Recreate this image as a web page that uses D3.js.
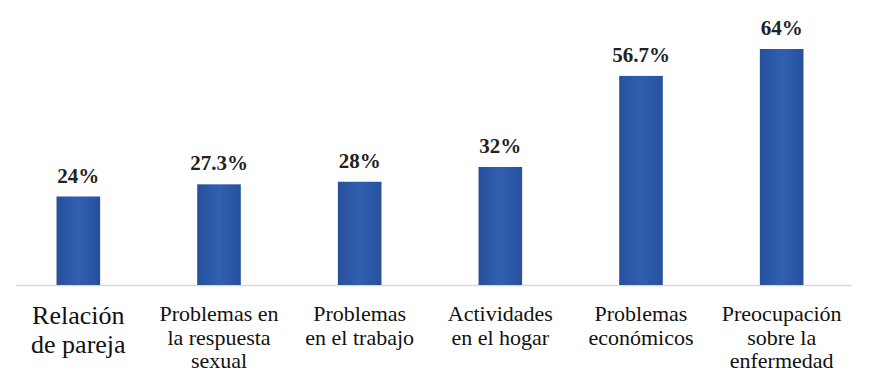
<!DOCTYPE html>
<html><head><meta charset="UTF-8"></head>
<body style="margin:0">
<svg width="886" height="389"></svg>
<script src="https://cdn.jsdelivr.net/npm/d3@7/dist/d3.min.js"></script>
<script>

var categories = [
    ["Relación", "de pareja"],
    ["Problemas en", "la respuesta", "sexual"],
    ["Problemas", "en el trabajo"],
    ["Actividades", "en el hogar"],
    ["Problemas", "económicos"],
    ["Preocupación", "sobre la", "enfermedad"]
];
var values = [24, 27.3, 28, 32, 56.7, 64];
var valueLabels = ["24%", "27.3%", "28%", "32%", "56.7%", "64%"];

var svg = d3.select("svg"),
    baseY = 285;

var x = d3.scaleBand()
    .domain(d3.range(values.length))
    .range([8, 852])
    .paddingInner(0.69)
    .paddingOuter(0.345);

var y = d3.scaleLinear()
    .domain([0, 64])
    .range([baseY, 49]);

var grad = svg.append("defs").append("linearGradient")
    .attr("id", "barGrad")
    .attr("x1", "0%").attr("x2", "100%");
grad.append("stop").attr("offset", "0%").attr("stop-color", "#26509c");
grad.append("stop").attr("offset", "50%").attr("stop-color", "#3160b0");
grad.append("stop").attr("offset", "100%").attr("stop-color", "#26509c");

// baseline
svg.append("line")
    .attr("x1", 16)
    .attr("x2", 852)
    .attr("y1", baseY + 0.5)
    .attr("y2", baseY + 0.5)
    .attr("stroke", "#d9d9d9")
    .attr("stroke-width", 1.5);

svg.append("g")
  .selectAll("rect")
  .data(values)
  .enter().append("rect")
    .attr("x", function(d, i) { return x(i); })
    .attr("y", function(d) { return y(d); })
    .attr("width", x.bandwidth())
    .attr("height", function(d) { return baseY - y(d); })
    .attr("fill", "url(#barGrad)");

svg.selectAll("text.value")
  .data(values)
  .enter().append("text")
    .attr("class", "value")
    .attr("font-family", "Times New Roman")
    .attr("font-weight", "bold")
    .attr("font-size", 21)
    .attr("fill", "#222")
    .attr("text-anchor", "middle")
    .attr("x", function(d, i) { return x(i) + x.bandwidth() / 2; })
    .attr("y", function(d) { return y(d) - 14; })
    .text(function(d, i) { return valueLabels[i]; });

categories.forEach(function(lines, i) {
  var big = i === 0;
  svg.selectAll("text.cat" + i)
    .data(lines)
    .enter().append("text")
      .attr("class", "cat" + i)
      .attr("font-family", "Times New Roman")
      .attr("font-size", big ? 26 : 22)
      .attr("fill", "#111")
      .attr("text-anchor", "middle")
      .attr("x", x(i) + x.bandwidth() / 2)
      .attr("y", function(d, j) { return (big ? 324 : 321) + j * (big ? 29 : 23.5); })
      .text(function(d) { return d; });
});

</script>
</body></html>
